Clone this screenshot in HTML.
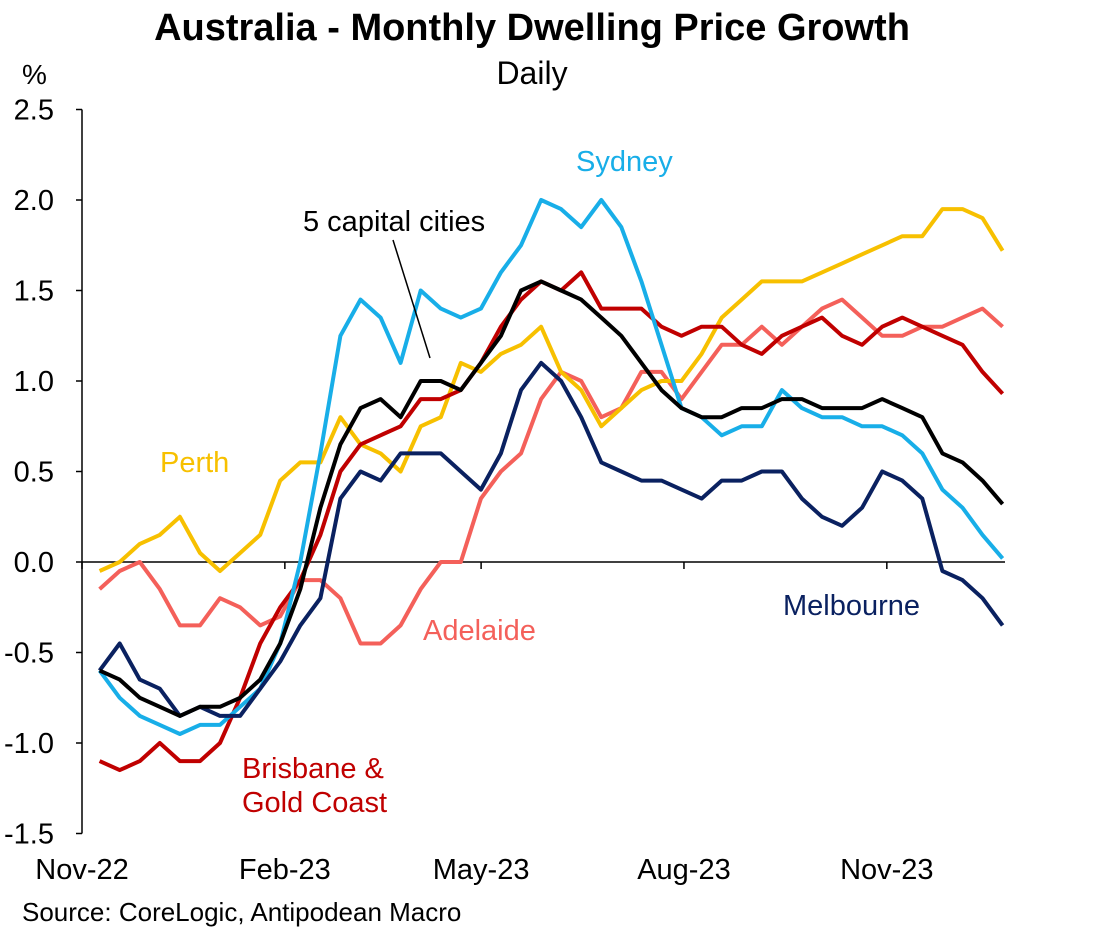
<!DOCTYPE html>
<html><head><meta charset="utf-8"><style>
body{margin:0;background:#fff;}
svg text{font-family:"Liberation Sans",Arial,sans-serif;}
</style></head><body>
<svg id="chart" width="1093" height="930" xmlns="http://www.w3.org/2000/svg">
<text x="532" y="40" font-size="38" font-weight="bold" text-anchor="middle">Australia - Monthly Dwelling Price Growth</text>
<text x="532" y="84" font-size="32" text-anchor="middle">Daily</text>
<text x="22" y="84" font-size="28">%</text>
<text x="22" y="921" font-size="26">Source: CoreLogic, Antipodean Macro</text>
<g id="axes"></g><g id="series"></g><g id="labels"></g>
</svg>
<script>
const yTicks=[2.5,2.0,1.5,1.0,0.5,0.0,-0.5,-1.0,-1.5];
const xTickLabels=["Nov-22","Feb-23","May-23","Aug-23","Nov-23"];
const xTickDays=[0,92,181,273,365];
const sampleStartDay=8, sampleStep=9.1;
const sydney=[-0.6,-0.75,-0.85,-0.9,-0.95,-0.9,-0.9,-0.8,-0.7,-0.45,0.0,0.6,1.25,1.45,1.35,1.1,1.5,1.4,1.35,1.4,1.6,1.75,2.0,1.95,1.85,2.0,1.85,1.55,1.2,0.85,0.8,0.7,0.75,0.75,0.95,0.85,0.8,0.8,0.75,0.75,0.7,0.6,0.4,0.3,0.15,0.02];
const fiveCities=[-0.6,-0.65,-0.75,-0.8,-0.85,-0.8,-0.8,-0.75,-0.65,-0.45,-0.15,0.3,0.65,0.85,0.9,0.8,1.0,1.0,0.95,1.1,1.25,1.5,1.55,1.5,1.45,1.35,1.25,1.1,0.95,0.85,0.8,0.8,0.85,0.85,0.9,0.9,0.85,0.85,0.85,0.9,0.85,0.8,0.6,0.55,0.45,0.32];
const melbourne=[-0.6,-0.45,-0.65,-0.7,-0.85,-0.8,-0.85,-0.85,-0.7,-0.55,-0.35,-0.2,0.35,0.5,0.45,0.6,0.6,0.6,0.5,0.4,0.6,0.95,1.1,1.0,0.8,0.55,0.5,0.45,0.45,0.4,0.35,0.45,0.45,0.5,0.5,0.35,0.25,0.2,0.3,0.5,0.45,0.35,-0.05,-0.1,-0.2,-0.35];
const brisbane=[-1.1,-1.15,-1.1,-1.0,-1.1,-1.1,-1.0,-0.75,-0.45,-0.25,-0.1,0.15,0.5,0.65,0.7,0.75,0.9,0.9,0.95,1.1,1.3,1.45,1.55,1.5,1.6,1.4,1.4,1.4,1.3,1.25,1.3,1.3,1.2,1.15,1.25,1.3,1.35,1.25,1.2,1.3,1.35,1.3,1.25,1.2,1.05,0.93];
const adelaide=[-0.15,-0.05,0.0,-0.15,-0.35,-0.35,-0.2,-0.25,-0.35,-0.3,-0.1,-0.1,-0.2,-0.45,-0.45,-0.35,-0.15,0.0,0.0,0.35,0.5,0.6,0.9,1.05,1.0,0.8,0.85,1.05,1.05,0.9,1.05,1.2,1.2,1.3,1.2,1.3,1.4,1.45,1.35,1.25,1.25,1.3,1.3,1.35,1.4,1.3];
const perth=[-0.05,0.0,0.1,0.15,0.25,0.05,-0.05,0.05,0.15,0.45,0.55,0.55,0.8,0.65,0.6,0.5,0.75,0.8,1.1,1.05,1.15,1.2,1.3,1.05,0.95,0.75,0.85,0.95,1.0,1.0,1.15,1.35,1.45,1.55,1.55,1.55,1.6,1.65,1.7,1.75,1.8,1.8,1.95,1.95,1.9,1.72];
const NS="http://www.w3.org/2000/svg";
const X0=82,PX_PER_DAY=2.205;
function xs(d){return X0+d*PX_PER_DAY;}
function ys(v){return 562-v*181;}
function mk(tag,attrs,parent,txt){const e=document.createElementNS(NS,tag);for(const k in attrs)e.setAttribute(k,attrs[k]);if(txt!==undefined)e.textContent=txt;parent.appendChild(e);return e;}
const axes=document.getElementById('axes');
const yl=mk('line',{x1:82,x2:82,y1:ys(2.5),y2:ys(-1.5),stroke:'#000','stroke-width':1.5},axes);


yTicks.forEach(t=>{
  const l=mk('line',{x1:76,x2:82,y1:ys(t),y2:ys(t),stroke:'#000','stroke-width':1.5},axes);
  
  
  const tx=mk('text',{x:54,y:ys(t)+10,'font-size':29,'text-anchor':'end'},axes,t.toFixed(1));
  
  
});
const zl=mk('line',{x1:82,x2:1005,y1:ys(0),y2:ys(0),stroke:'#000','stroke-width':1.5},axes);


xTickLabels.forEach((lab,i)=>{
  const x=xs(xTickDays[i]);
  const l=mk('line',{x1:x,x2:x,y1:ys(0),y2:ys(0)+7,stroke:'#000','stroke-width':1.5},axes);
  
  
  const tx=mk('text',{x:x,y:879,'font-size':29,'text-anchor':'middle'},axes,lab);
  
  
});
const sg=document.getElementById('series');
function draw(arr,color,name){
  const pts=arr.map((v,i)=>xs(sampleStartDay+i*sampleStep).toFixed(1)+','+ys(v).toFixed(1)).join(' ');
  const p=mk('polyline',{points:pts,fill:'none',stroke:color,'stroke-width':4,'stroke-linejoin':'round'},sg);
  
  
}
draw(adelaide,'#f4605a','adelaide-line');
draw(perth,'#f7c000','perth-line');
draw(brisbane,'#c00000','brisbane-line');
draw(sydney,'#18aee8','sydney-line');
draw(melbourne,'#0a2160','melbourne-line');
draw(fiveCities,'#000000','five-capitals-line');
const lg=document.getElementById('labels');
function lab(x,y,t,c,name){const e=mk('text',{x:x,y:y,'font-size':29,fill:c},lg,t);}
lab(576,171,'Sydney','#18aee8','sydney-label');
lab(303,231,'5 capital cities','#000','five-capitals-label');
lab(160,472,'Perth','#f7c000','perth-label');
lab(423,640,'Adelaide','#f4605a','adelaide-label');
lab(783,615,'Melbourne','#0a2160','melbourne-label');
lab(242,778,'Brisbane &','#c00000','brisbane-label-1');
lab(242,812,'Gold Coast','#c00000','brisbane-label-2');
const pl=mk('line',{x1:393,y1:240,x2:430,y2:358,stroke:'#000','stroke-width':1.5},lg);


</script>
</body></html>
